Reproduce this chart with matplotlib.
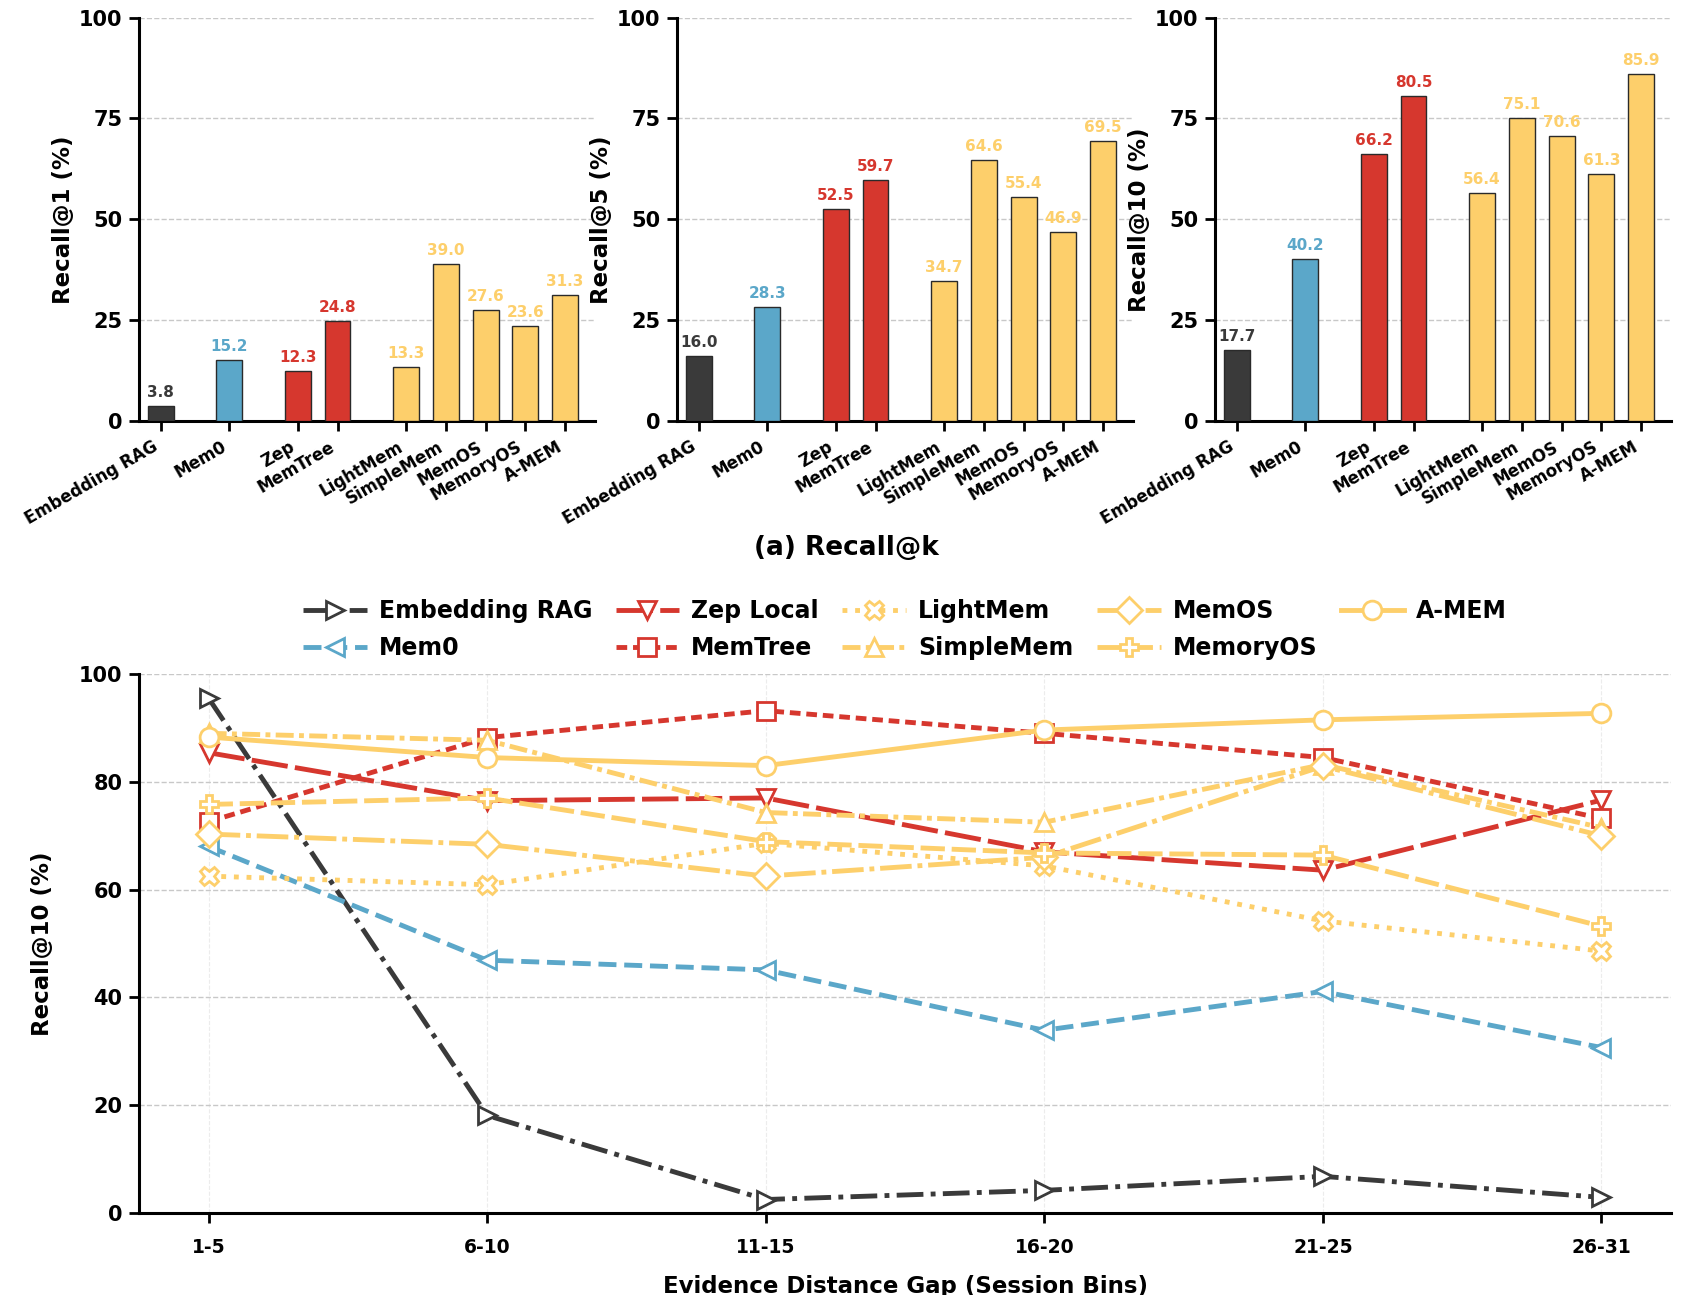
import matplotlib
matplotlib.use("Agg")
import matplotlib.pyplot as plt
import numpy as np

plt.rcParams['font.family'] = ['DejaVu Sans']
plt.rcParams['font.weight'] = 'bold'
plt.rcParams['axes.labelweight'] = 'bold'

# ---------------- data ----------------
bar_labels = ["Embedding RAG", "Mem0", "Zep", "MemTree", "LightMem",
              "SimpleMem", "MemOS", "MemoryOS", "A-MEM"]
bar_groups = [0, 1, 2, 2, 3, 3, 3, 3, 3]
recall_at_1 = [3.8, 15.2, 12.3, 24.8, 13.3, 39.0, 27.6, 23.6, 31.3]
recall_at_5 = [16.0, 28.3, 52.5, 59.7, 34.7, 64.6, 55.4, 46.9, 69.5]
recall_at_10 = [17.7, 40.2, 66.2, 80.5, 56.4, 75.1, 70.6, 61.3, 85.9]
k_values = [1, 5, 10]

bins = ["1-5", "6-10", "11-15", "16-20", "21-25", "26-31"]
series_names = ["Embedding RAG", "Mem0", "Zep Local", "MemTree", "LightMem",
                "SimpleMem", "MemOS", "MemoryOS", "A-MEM"]
emb_rag = [95.5, 18.1, 2.5, 4.2, 6.8, 2.9]
mem0 = [68.0, 46.9, 45.1, 33.9, 41.1, 30.7]
zep_local = [85.4, 76.5, 77.0, 67.0, 63.6, 76.6]
memtree = [72.6, 88.2, 93.2, 89.0, 84.5, 73.2]
lightmem = [62.5, 60.9, 68.6, 64.4, 54.2, 48.6]
simplemem = [89.0, 87.7, 74.3, 72.5, 83.2, 71.5]
memos = [70.3, 68.4, 62.5, 66.0, 82.9, 70.0]
memoryos = [75.8, 77.0, 68.9, 66.8, 66.4, 53.2]
amem = [88.3, 84.5, 83.0, 89.6, 91.5, 92.7]

# ---------------- styles ----------------
C_DARK = "#3a3a3a"
C_BLUE = "#5ba7c9"
C_RED = "#d6372e"
C_YEL = "#fdcf6b"
group_colors = [C_DARK, C_BLUE, C_RED, C_YEL]

series_styles = [
    dict(color=C_DARK, ls=(0, (5.5, 1.5, 1, 1.5)), marker=">"),
    dict(color=C_BLUE, ls=(0, (3.7, 1.6)), marker="<"),
    dict(color=C_RED, ls=(0, (7.5, 1.5)), marker="v"),
    dict(color=C_RED, ls=(0, (2.2, 1.2)), marker="s"),
    dict(color=C_YEL, ls=(0, (1, 1.6)), marker="X"),
    dict(color=C_YEL, ls=(0, (3.7, 1.1, 1, 1.1)), marker="^"),
    dict(color=C_YEL, ls=(0, (6.5, 1.2, 1, 1.2)), marker="D"),
    dict(color=C_YEL, ls=(0, (5, 1.4)), marker="P"),
    dict(color=C_YEL, ls="-", marker="o"),
]

W, H = 1701, 1295
fig = plt.figure(figsize=(W / 100, H / 100), dpi=100)

def fx(px):
    return px / W

def fy(py):
    return 1 - py / H

# bar x-positions with gaps between groups
pos = []
x = 0.0
prev = bar_groups[0]
for g in bar_groups:
    if g != prev:
        x += 0.72
    pos.append(x)
    x += 1.0
    prev = g
pos = np.array(pos)

panel_left = [139, 677, 1215]
panel_w = 456
top_y0, top_y1 = 17.5, 421
datasets = [recall_at_1, recall_at_5, recall_at_10]

for i, (vals, k) in enumerate(zip(datasets, k_values)):
    ax = fig.add_axes([fx(panel_left[i]), fy(top_y1), fx(panel_w),
                       (top_y1 - top_y0) / H])
    cols = [group_colors[g] for g in bar_groups]
    ax.bar(pos, vals, width=0.65, color=cols, edgecolor="#2a2a2a",
           linewidth=1.0, zorder=3)
    for xp, v, c in zip(pos, vals, cols):
        ax.text(xp, v + 1.5, f"{v:.1f}", ha="center", va="bottom",
                fontsize=11, fontweight="bold", color=c, zorder=4)
    ax.set_ylim(0, 100)
    ax.set_xlim(pos[0] - 0.55, pos[-1] + 0.75)
    ax.set_yticks([0, 25, 50, 75, 100])
    ax.set_xticks(pos)
    ax.set_xticklabels(bar_labels, rotation=30, ha="right", fontsize=12,
                       fontweight="bold")
    ax.tick_params(axis="y", labelsize=15, length=7, width=2, pad=5)
    ax.tick_params(axis="x", length=7, width=2, pad=5)
    for lab in ax.get_yticklabels():
        lab.set_fontweight("bold")
    ax.set_ylabel(f"Recall@{k} (%)", fontsize=16.5, fontweight="bold",
                  labelpad=3)
    ax.grid(axis="y", linestyle="--", color="#c8c8c8", linewidth=1.0,
            zorder=0)
    ax.spines["top"].set_visible(False)
    ax.spines["right"].set_visible(False)
    ax.spines["left"].set_linewidth(2.2)
    ax.spines["bottom"].set_linewidth(2.2)
    ax.set_axisbelow(True)

fig.text(fx(846), fy(548), "(a) Recall@k", ha="center", va="center",
         fontsize=19, fontweight="bold")

# ---------------- bottom line chart ----------------
ax2 = fig.add_axes([fx(139), fy(1213), fx(1671 - 139), (1213 - 674) / H])
series_vals = [emb_rag, mem0, zep_local, memtree, lightmem, simplemem,
               memos, memoryos, amem]
xs = np.arange(len(bins))
for name, vals, st in zip(series_names, series_vals, series_styles):
    ax2.plot(xs, vals, color=st["color"], linestyle=st["ls"],
             marker=st["marker"], markersize=13.5, markerfacecolor="white",
             markeredgecolor=st["color"], markeredgewidth=2.0,
             linewidth=3.5, label=name, zorder=3)

ax2.set_xlim(-0.25, 5.25)
ax2.set_ylim(0, 100)
ax2.set_xticks(xs)
ax2.set_xticklabels(bins, fontsize=13.5, fontweight="bold")
ax2.set_yticks([0, 20, 40, 60, 80, 100])
ax2.tick_params(axis="y", labelsize=15, length=7, width=2, pad=5)
ax2.tick_params(axis="x", length=7, width=2, pad=11)
for lab in ax2.get_yticklabels():
    lab.set_fontweight("bold")
ax2.set_ylabel("Recall@10 (%)", fontsize=16.5, fontweight="bold", labelpad=18)
ax2.set_xlabel("Evidence Distance Gap (Session Bins)", fontsize=16.5,
               fontweight="bold", labelpad=13)
ax2.grid(axis="y", linestyle="--", color="#c8c8c8", linewidth=1.0, zorder=0)
ax2.grid(axis="x", linestyle="--", color="#ececec", linewidth=0.8, zorder=0)
ax2.spines["top"].set_visible(False)
ax2.spines["right"].set_visible(False)
ax2.spines["left"].set_linewidth(2.2)
ax2.spines["bottom"].set_linewidth(2.2)

leg = ax2.legend(loc="lower center", bbox_to_anchor=(0.5, 1.0), ncol=5,
                 frameon=False, prop=dict(size=17, weight="bold"),
                 handlelength=2.7, columnspacing=1.0, handletextpad=0.5,
                 labelspacing=0.55, borderaxespad=0.2)

fig.savefig("out.png", dpi=100)
